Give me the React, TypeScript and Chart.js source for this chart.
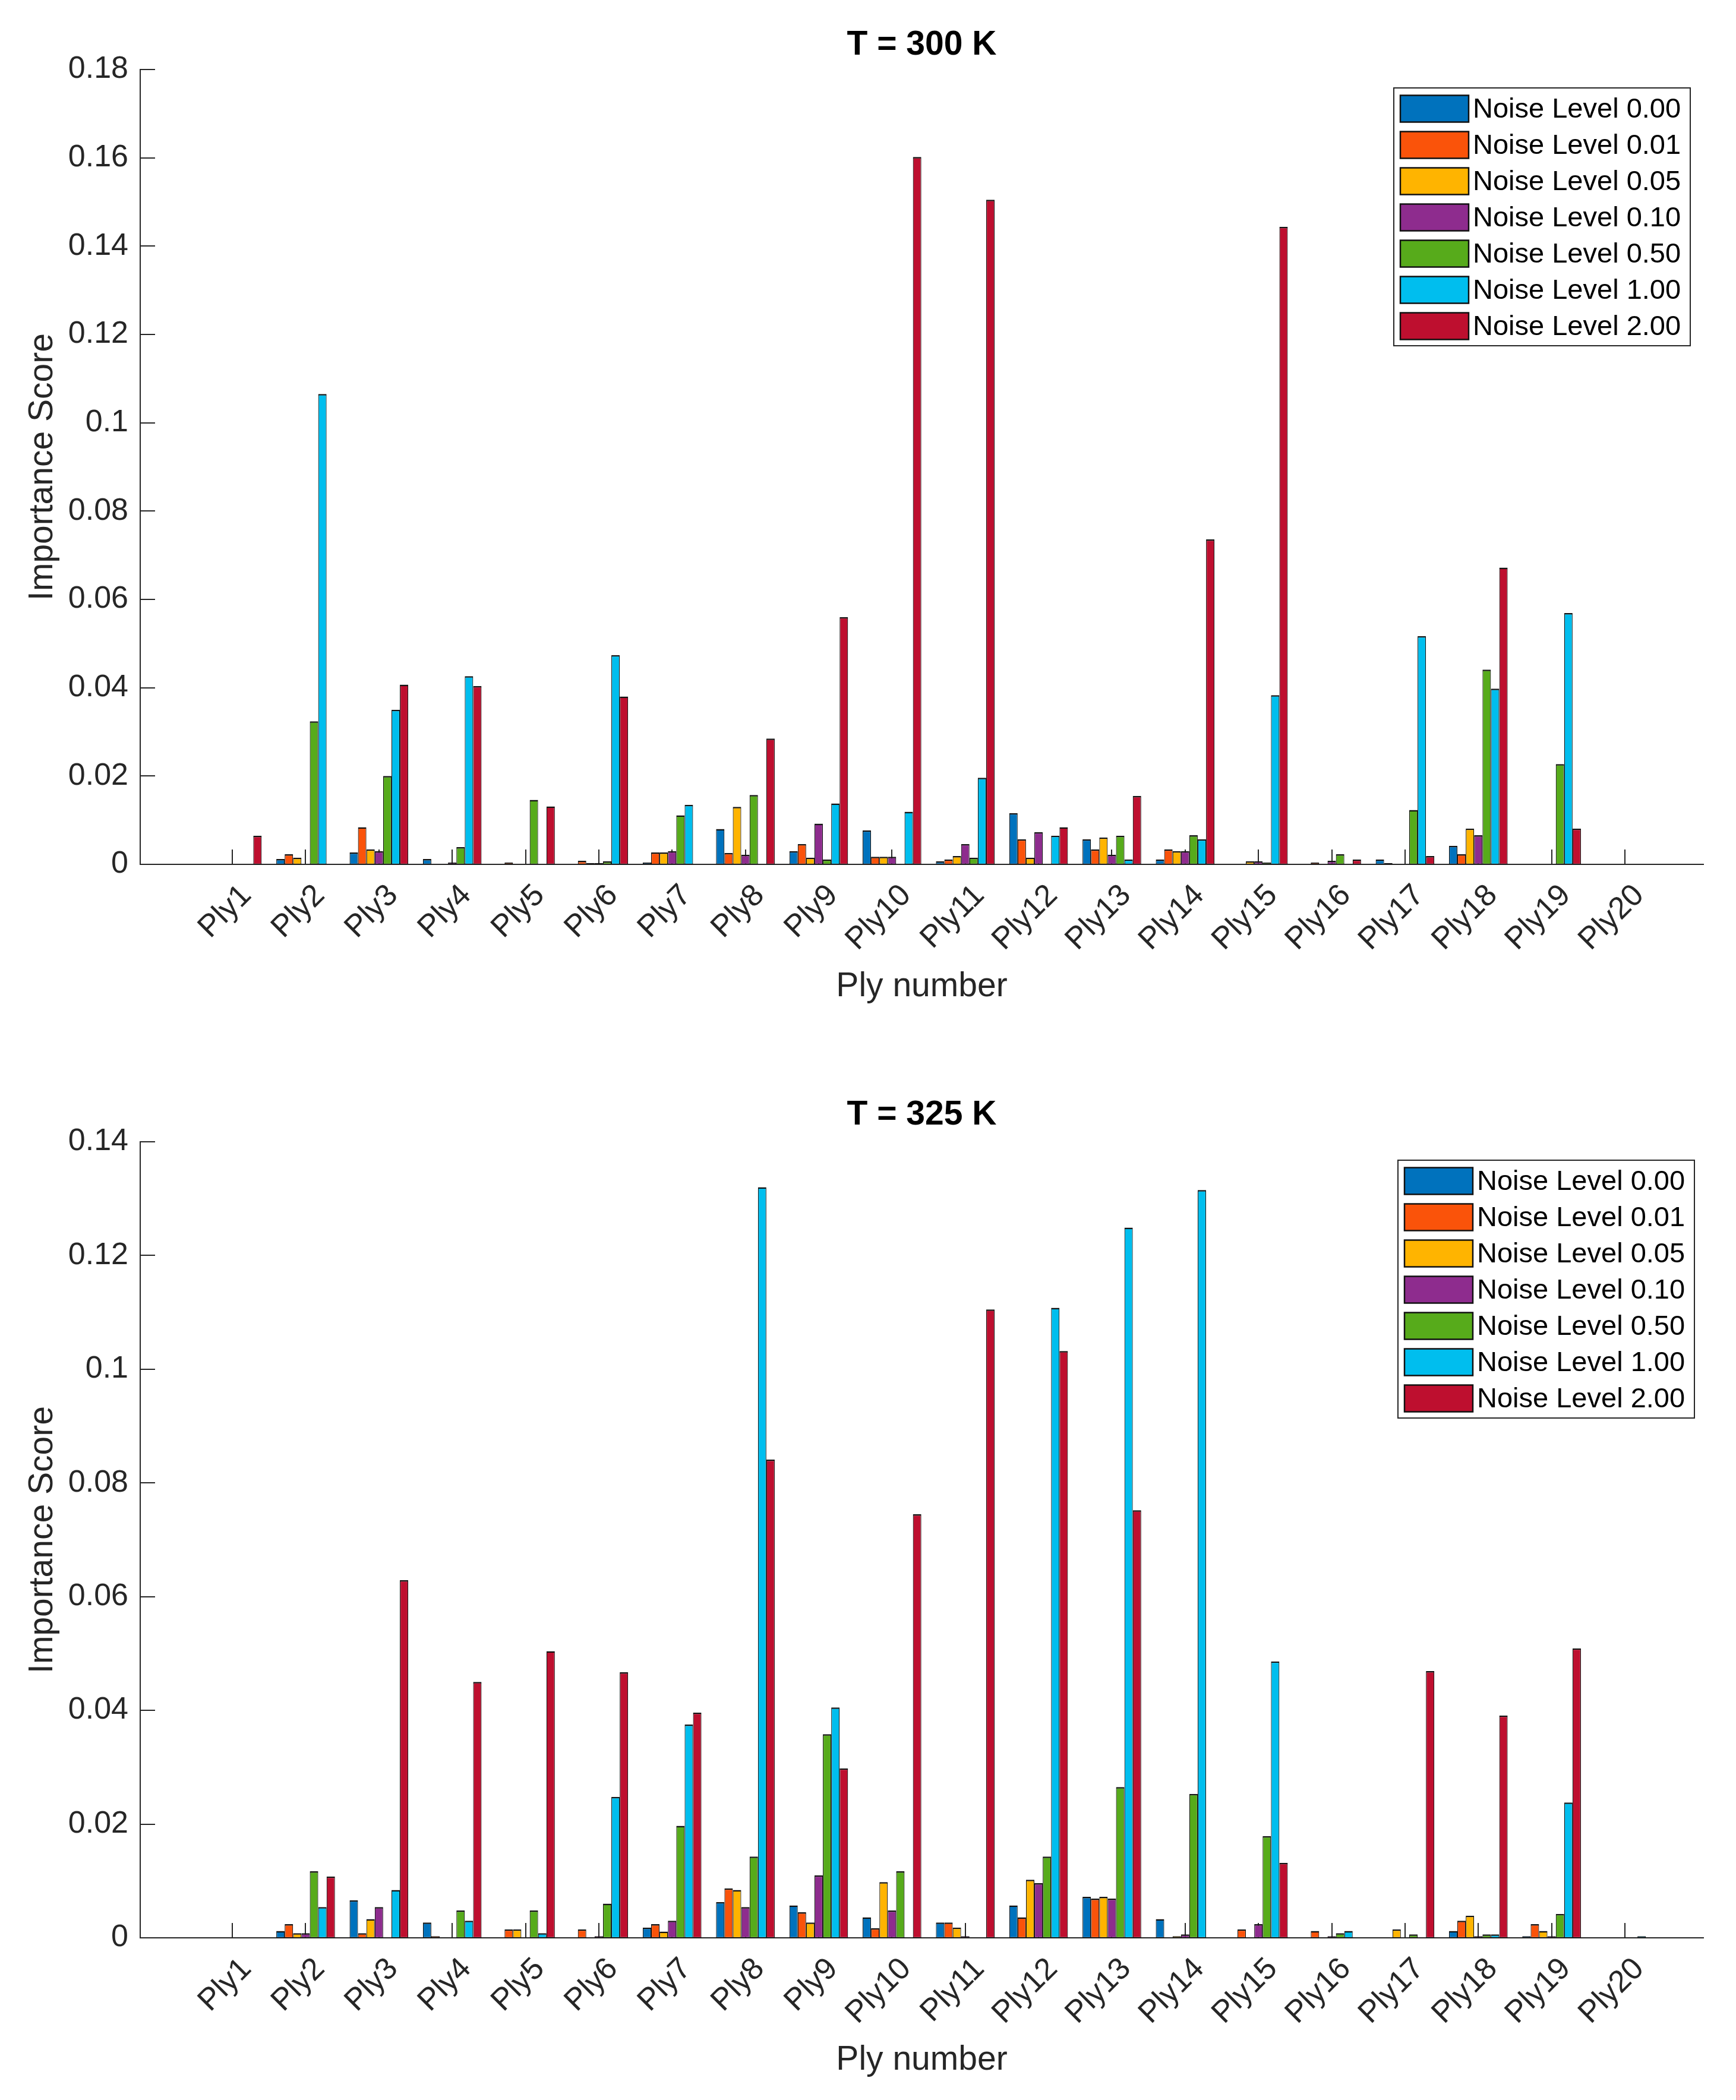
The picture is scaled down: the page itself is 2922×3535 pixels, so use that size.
import { useEffect, useRef } from 'react';
import { Chart, registerables } from 'chart.js';

Chart.register(...registerables);

Chart.defaults.font.family = '"Liberation Sans", Arial, sans-serif';

const plies = [
  'Ply1', 'Ply2', 'Ply3', 'Ply4', 'Ply5', 'Ply6', 'Ply7', 'Ply8', 'Ply9', 'Ply10',
  'Ply11', 'Ply12', 'Ply13', 'Ply14', 'Ply15', 'Ply16', 'Ply17', 'Ply18', 'Ply19', 'Ply20',
];

const noiseLabels = [
  'Noise Level 0.00', 'Noise Level 0.01', 'Noise Level 0.05', 'Noise Level 0.10',
  'Noise Level 0.50', 'Noise Level 1.00', 'Noise Level 2.00',
];

const noiseColors = ['#0072BD', '#FA530A', '#FFB400', '#8E2C8E', '#57AB1B', '#00BEEE', '#BE0F2F'];

// T = 300 K
const t300_000 = [0, 0.0012, 0.0027, 0.0012, 0, 0, 0.0004, 0.008, 0.003, 0.0077, 0.0007, 0.0116, 0.0057, 0.0011, 0, 0, 0.0011, 0.0042, 0, 0];
const t300_001 = [0, 0.0023, 0.0084, 0, 0.0004, 0.0008, 0.0027, 0.0026, 0.0046, 0.0017, 0.0011, 0.0057, 0.0034, 0.0034, 0, 0.0004, 0.0003, 0.0023, 0, 0];
const t300_005 = [0, 0.0015, 0.0034, 0, 0, 0.0003, 0.0027, 0.013, 0.0015, 0.0017, 0.0019, 0.0015, 0.0061, 0.003, 0.0007, 0, 0, 0.0081, 0, 0];
const t300_010 = [0, 0, 0.003, 0.0004, 0, 0.0003, 0.003, 0.0022, 0.0092, 0.0017, 0.0046, 0.0073, 0.0022, 0.003, 0.0007, 0.0008, 0, 0.0066, 0, 0];
const t300_050 = [0, 0.0324, 0.02, 0.0039, 0.0146, 0.0007, 0.0111, 0.0157, 0.0011, 0, 0.0015, 0, 0.0065, 0.0066, 0.0004, 0.0023, 0.0123, 0.0441, 0.0227, 0];
const t300_100 = [0, 0.1065, 0.035, 0.0426, 0, 0.0474, 0.0135, 0, 0.0138, 0.0119, 0.0196, 0.0065, 0.0011, 0.0057, 0.0383, 0, 0.0517, 0.0398, 0.0569, 0];
const t300_200 = [0.0065, 0, 0.0407, 0.0404, 0.0131, 0.038, 0, 0.0285, 0.056, 0.1602, 0.1505, 0.0084, 0.0155, 0.0736, 0.1444, 0.0011, 0.0019, 0.0672, 0.0081, 0];

// T = 325 K
const t325_000 = [0, 0.0012, 0.0066, 0.0027, 0, 0, 0.0018, 0.0063, 0.0057, 0.0036, 0.0027, 0.0057, 0.0072, 0.0033, 0, 0, 0, 0.0012, 0.0003, 0];
const t325_001 = [0, 0.0024, 0.0008, 0.0003, 0.0015, 0.0015, 0.0024, 0.0087, 0.0045, 0.0017, 0.0027, 0.0036, 0.0069, 0, 0.0015, 0.0012, 0, 0.003, 0.0024, 0];
const t325_005 = [0, 0.0008, 0.0033, 0, 0.0015, 0, 0.0011, 0.0084, 0.0027, 0.0098, 0.0018, 0.0102, 0.0072, 0.0003, 0, 0, 0.0015, 0.0039, 0.0012, 0];
const t325_010 = [0, 0.0008, 0.0054, 0, 0, 0.0003, 0.003, 0.0054, 0.011, 0.0048, 0.0003, 0.0096, 0.0069, 0.0006, 0.0024, 0.0003, 0, 0.0003, 0.0003, 0];
const t325_050 = [0, 0.0117, 0, 0.0048, 0.0048, 0.006, 0.0197, 0.0143, 0.0358, 0.0117, 0, 0.0143, 0.0265, 0.0253, 0.0179, 0.0008, 0.0006, 0.0006, 0.0042, 0];
const t325_100 = [0, 0.0054, 0.0084, 0.003, 0.0008, 0.0248, 0.0375, 0.132, 0.0405, 0, 0, 0.1108, 0.1249, 0.1315, 0.0486, 0.0012, 0, 0.0006, 0.0238, 0.0003];
const t325_200 = [0, 0.0108, 0.0629, 0.045, 0.0504, 0.0467, 0.0396, 0.0841, 0.0298, 0.0745, 0.1105, 0.1032, 0.0752, 0, 0.0132, 0, 0.0469, 0.0391, 0.0509, 0];

const series300 = [t300_000, t300_001, t300_005, t300_010, t300_050, t300_100, t300_200];
const series325 = [t325_000, t325_001, t325_005, t325_010, t325_050, t325_100, t325_200];

const AXIS = '#262626';

// legend with a box round it, drawn inside the plot area
const boxLegend = {
  id: 'boxLegend',
  afterDraw(chart: any, _args: any, opts: any) {
    const { ctx, chartArea } = chart;
    const x = chartArea.right - opts.right - opts.width;
    const y = chartArea.top + opts.top;
    ctx.save();
    ctx.fillStyle = '#fff';
    ctx.fillRect(x, y, opts.width, opts.height);
    ctx.lineWidth = 2;
    ctx.strokeStyle = AXIS;
    ctx.strokeRect(x, y, opts.width, opts.height);
    ctx.font = `${opts.fontSize}px "Liberation Sans", Arial, sans-serif`;
    ctx.textBaseline = 'middle';
    chart.data.datasets.forEach((ds: any, i: number) => {
      const cy = y + opts.firstRow + i * opts.rowStep;
      const sx = x + opts.swatchX;
      const sy = cy - opts.swatchH / 2;
      ctx.fillStyle = ds.backgroundColor;
      ctx.fillRect(sx, sy, opts.swatchW, opts.swatchH);
      ctx.strokeStyle = '#111';
      ctx.lineWidth = 2.5;
      ctx.strokeRect(sx, sy, opts.swatchW, opts.swatchH);
      ctx.fillStyle = '#000';
      ctx.fillText(ds.label, x + opts.textX, cy + 2);
    });
    ctx.restore();
  },
};

// MATLAB style ticks pointing into the plot
const innerTicks = {
  id: 'innerTicks',
  beforeDatasetsDraw(chart: any, _args: any, opts: any) {
    const { ctx, chartArea, scales } = chart;
    ctx.save();
    ctx.strokeStyle = AXIS;
    ctx.lineWidth = 2;
    ctx.beginPath();
    scales.y.ticks.forEach((t: any) => {
      const py = Math.round(scales.y.getPixelForValue(t.value));
      ctx.moveTo(chartArea.left, py);
      ctx.lineTo(chartArea.left + opts.length, py);
    });
    scales.x.ticks.forEach((t: any) => {
      const px = Math.round(scales.x.getPixelForValue(t.value));
      ctx.moveTo(px, chartArea.bottom);
      ctx.lineTo(px, chartArea.bottom - opts.length);
    });
    ctx.stroke();
    ctx.restore();
  },
};

interface PanelProps {
  title: string;
  series: number[][];
  yMax: number;
  height: number;
  titleTop: number;
  titleBottom: number;
  xAxisHeight: number;
  bottomPad: number;
  legendRight: number;
}

const BarPanel = ({ title, series, yMax, height, titleTop, titleBottom, xAxisHeight, bottomPad, legendRight }: PanelProps) => {
  const canvasRef = useRef<HTMLCanvasElement>(null);

  useEffect(() => {
    if (!canvasRef.current) return;
    const chart = new Chart(canvasRef.current, {
      type: 'bar',
      data: {
        datasets: series.map((values, k) => ({
          label: noiseLabels[k],
          data: values.map((v, i) => ({ x: i + 1, y: v })),
          backgroundColor: noiseColors[k],
          borderColor: '#111',
          borderWidth: { top: 2.5, left: 1.2, right: 1.2, bottom: 1.2 },
          borderSkipped: false,
          categoryPercentage: 0.8,
          barPercentage: 1,
        })),
      },
      options: {
        animation: false,
        responsive: true,
        maintainAspectRatio: false,
        devicePixelRatio: 1,
        layout: { padding: { left: 0, right: 55, top: 0, bottom: bottomPad } },
        scales: {
          x: {
            type: 'linear',
            offset: false,
            min: -0.257,
            max: 21.07,
            afterBuildTicks: (scale: any) => {
              scale.ticks = plies.map((_, i) => ({ value: i + 1 }));
            },
            afterFit: (scale: any) => {
              scale.height = xAxisHeight;
            },
            grid: { display: false, drawTicks: false, offset: false },
            border: { display: true, color: AXIS, width: 2 },
            ticks: {
              autoSkip: false,
              maxRotation: 45,
              minRotation: 45,
              padding: 22,
              labelOffset: 24,
              color: AXIS,
              font: { size: 52 },
              callback: (v: any) => plies[Math.round(Number(v)) - 1] ?? '',
            },
            title: {
              display: true,
              text: 'Ply number',
              color: AXIS,
              font: { size: 57 },
              padding: { top: 0, bottom: 0 },
            },
          },
          y: {
            type: 'linear',
            min: 0,
            max: yMax,
            afterFit: (scale: any) => {
              scale.width = 236;
            },
            grid: { display: false, drawTicks: false },
            border: { display: true, color: AXIS, width: 2 },
            ticks: {
              stepSize: 0.02,
              padding: 20,
              color: AXIS,
              font: { size: 52 },
              callback: (v: any) => String(Number(Number(v).toFixed(2))),
            },
            title: {
              display: true,
              text: 'Importance Score',
              color: AXIS,
              font: { size: 57 },
              padding: { top: 38, bottom: 0 },
            },
          },
        },
        plugins: {
          legend: { display: false },
          tooltip: { enabled: false },
          title: {
            display: true,
            fullSize: false,
            text: title,
            color: '#000',
            font: { size: 57, weight: 'bold' },
            padding: { top: titleTop, bottom: titleBottom },
          },
          boxLegend: {
            right: legendRight,
            top: 31,
            width: 499,
            height: 434,
            firstRow: 35,
            rowStep: 61,
            swatchX: 11,
            swatchW: 115,
            swatchH: 45,
            textX: 133,
            fontSize: 47,
          },
          innerTicks: { length: 25 },
        } as any,
      },
      plugins: [innerTicks, boxLegend],
    } as any);
    return () => {
      chart.destroy();
    };
  }, [series, yMax, title, titleTop, titleBottom, xAxisHeight, bottomPad, legendRight]);

  return (
    <div style={{ position: 'relative', width: 2922, height }}>
      <canvas ref={canvasRef} />
    </div>
  );
};

const App = () => (
  <div style={{ position: 'absolute', left: 0, top: 0, width: 2922, height: 3535, background: '#fff' }}>
    <BarPanel
      title="T = 300 K"
      series={series300}
      yMax={0.18}
      height={1767}
      titleTop={42}
      titleBottom={6.6}
      xAxisHeight={240}
      bottomPad={72}
      legendRight={22}
    />
    <BarPanel
      title="T = 325 K"
      series={series325}
      yMax={0.14}
      height={1768}
      titleTop={75.8}
      titleBottom={10.8}
      xAxisHeight={240.7}
      bottomPad={32.3}
      legendRight={15}
    />
  </div>
);

export default App;
